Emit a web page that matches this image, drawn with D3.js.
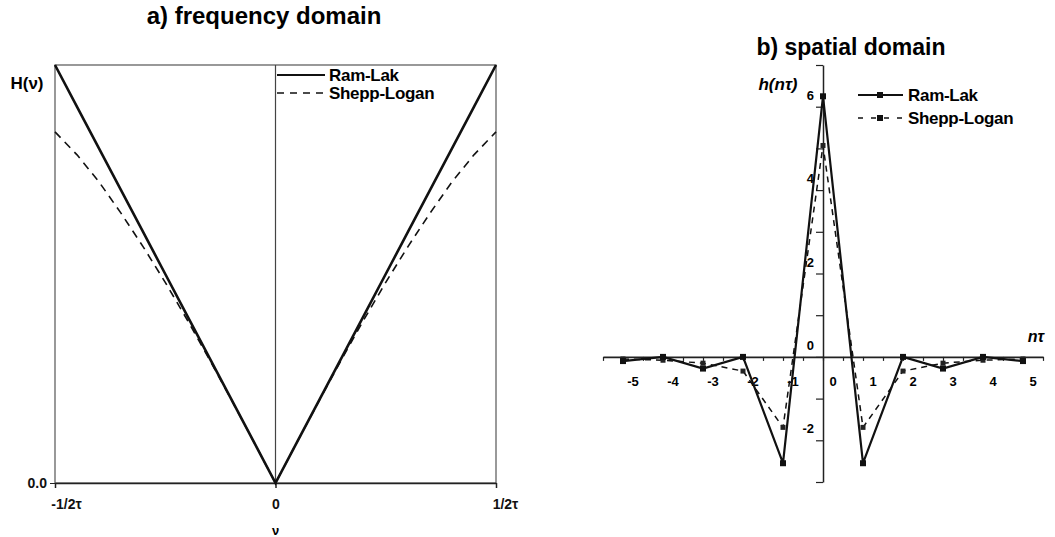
<!DOCTYPE html>
<html>
<head>
<meta charset="utf-8">
<script src="https://cdn.jsdelivr.net/npm/d3@7"></script>
<style>
  body { margin: 0; background: #fff; }
  svg { font-family: Arial, "Liberation Sans", sans-serif; }
  .axis path, .axis line { stroke: #222; }
  .axis text { font-weight: bold; fill: #111; }
</style>
</head>
<body>
<div id="chart"></div>
<script>
// a) frequency domain: normalised frequency (units of 1/2tau) and filter gain
const freqNu = [-1, -0.9, -0.8, -0.7, -0.6, -0.5, -0.4, -0.3, -0.2, -0.1, 0, 0.1, 0.2, 0.3, 0.4, 0.5, 0.6, 0.7, 0.8, 0.9, 1];
const ramLakH = [1, 0.9, 0.8, 0.7, 0.6, 0.5, 0.4, 0.3, 0.2, 0.1, 0, 0.1, 0.2, 0.3, 0.4, 0.5, 0.6, 0.7, 0.8, 0.9, 1];
const sheppLoganH = [0.84, 0.785, 0.72, 0.645, 0.565, 0.48, 0.39, 0.296, 0.199, 0.1, 0, 0.1, 0.199, 0.296, 0.39, 0.48, 0.565, 0.645, 0.72, 0.785, 0.84];
const freqTicks = [-1, 0, 1];
const freqTickLabels = ["-1/2\u03c4", "0", "1/2\u03c4"];

// b) spatial domain: sample index n and kernel values
const nValues = [-5, -4, -3, -2, -1, 0, 1, 2, 3, 4, 5];
const ramLakSpatial = [-0.1, 0, -0.28, 0, -2.55, 6.25, -2.55, 0, -0.28, 0, -0.1];
const sheppLoganSpatial = [-0.05, -0.08, -0.15, -0.34, -1.69, 5.07, -1.69, -0.34, -0.15, -0.08, -0.05];
const spatialYLabels = [6, 4, 2, 0, -2];

const seriesNames = ["Ram-Lak", "Shepp-Logan"];

const svg = d3.select("#chart")
  .append("svg")
  .attr("width", 1055)
  .attr("height", 537);

// ---------- panel a ----------
const xL = d3.scaleLinear().domain([-1, 1]).range([55, 496]);
const yL = d3.scaleLinear().domain([0, 1]).range([483, 65]);

const panelA = svg.append("g");

panelA.append("text")
  .attr("x", 264)
  .attr("y", 24)
  .attr("text-anchor", "middle")
  .attr("font-size", 24)
  .attr("font-weight", "bold")
  .text("a) frequency domain");

// frame
panelA.append("rect")
  .attr("x", xL(-1))
  .attr("y", yL(1))
  .attr("width", xL(1) - xL(-1))
  .attr("height", yL(0) - yL(1))
  .attr("fill", "none")
  .attr("stroke", "#555")
  .attr("stroke-width", 1.2);

// vertical line at nu = 0
panelA.append("line")
  .attr("x1", xL(0)).attr("x2", xL(0))
  .attr("y1", yL(1)).attr("y2", yL(0))
  .attr("stroke", "#444")
  .attr("stroke-width", 1.2);

const xAxisA = panelA.append("g")
  .attr("class", "axis")
  .attr("transform", "translate(0," + yL(0) + ")")
  .call(d3.axisBottom(xL).tickValues(freqTicks).tickSize(5).tickSizeOuter(0)
    .tickFormat((d, i) => freqTickLabels[i]));
xAxisA.select(".domain").attr("stroke-width", 1.6);
xAxisA.selectAll(".tick line").attr("stroke-width", 1.5);
xAxisA.selectAll(".tick text")
  .attr("font-size", 14)
  .attr("dy", "1.25em")
  .attr("dx", (d, i) => [11, 0, 9][i]);

const yAxisA = panelA.append("g")
  .attr("class", "axis")
  .attr("transform", "translate(" + xL(-1) + ",0)")
  .call(d3.axisLeft(yL).tickValues([0]).tickSize(5).tickSizeOuter(0)
    .tickFormat(d3.format(".1f")));
yAxisA.select(".domain").remove();
yAxisA.selectAll(".tick text").attr("font-size", 14).attr("x", -8);

panelA.append("text")
  .attr("x", 27)
  .attr("y", 89)
  .attr("text-anchor", "middle")
  .attr("font-size", 17)
  .attr("font-weight", "bold")
  .text("H(\u03bd)");

panelA.append("text")
  .attr("x", xL(0))
  .attr("y", 535)
  .attr("text-anchor", "middle")
  .attr("font-size", 13)
  .attr("font-weight", "bold")
  .text("\u03bd");

const lineA = d3.line()
  .x(d => xL(d[0]))
  .y(d => yL(d[1]));

panelA.append("path")
  .datum(d3.zip(freqNu, sheppLoganH))
  .attr("d", lineA)
  .attr("fill", "none")
  .attr("stroke", "#111")
  .attr("stroke-width", 1.6)
  .attr("stroke-dasharray", "8,6");

panelA.append("path")
  .datum(d3.zip(freqNu, ramLakH))
  .attr("d", lineA)
  .attr("fill", "none")
  .attr("stroke", "#111")
  .attr("stroke-width", 2.6);

// legend a
const legendA = panelA.append("g").attr("transform", "translate(277,75)");
seriesNames.forEach((name, i) => {
  legendA.append("line")
    .attr("x1", 0).attr("x2", 48)
    .attr("y1", i * 18).attr("y2", i * 18)
    .attr("stroke", "#111")
    .attr("stroke-width", i === 0 ? 1.8 : 1.6)
    .attr("stroke-dasharray", i === 0 ? null : "7,6");
  legendA.append("text")
    .attr("x", 52)
    .attr("y", i * 18)
    .attr("dy", "0.36em")
    .attr("font-size", 17)
    .attr("font-weight", "bold")
    .attr("letter-spacing", "-0.3")
    .text(name);
});

// ---------- panel b ----------
const xR = d3.scaleLinear().domain([-5.5, 5.5]).range([603, 1043]);
const yR = d3.scaleLinear().domain([-3, 7]).range([482, 65]);

const panelB = svg.append("g");

panelB.append("text")
  .attr("x", 851)
  .attr("y", 55)
  .attr("text-anchor", "middle")
  .attr("font-size", 23)
  .attr("font-weight", "bold")
  .text("b) spatial domain");

const xAxisB = panelB.append("g")
  .attr("class", "axis")
  .attr("transform", "translate(0," + yR(0) + ")")
  .call(d3.axisBottom(xR).tickValues(d3.range(-5.5, 5.51, 0.5)).tickSize(4).tickSizeOuter(0)
    .tickFormat(""));
xAxisB.select(".domain").attr("stroke-width", 1.6);
xAxisB.selectAll(".tick line").attr("stroke-width", 1.2);

// category labels sit a quarter step right of the points
panelB.append("g")
  .selectAll("text")
  .data(nValues)
  .join("text")
  .attr("x", d => xR(d + 0.25))
  .attr("y", yR(0) + 29)
  .attr("text-anchor", "middle")
  .attr("font-size", 13)
  .attr("font-weight", "bold")
  .text(d => d);

const yAxisB = panelB.append("g")
  .attr("class", "axis")
  .attr("transform", "translate(" + xR(0) + ",0)")
  .call(d3.axisLeft(yR).tickValues(d3.range(-3, 7.01, 1)).tickSize(7).tickSizeOuter(0)
    .tickFormat(""));
yAxisB.select(".domain").attr("stroke-width", 1.5);
yAxisB.selectAll(".tick line").attr("stroke-width", 1.2);

panelB.append("g")
  .selectAll("text")
  .data(spatialYLabels)
  .join("text")
  .attr("x", xR(0) - 9)
  .attr("y", d => yR(d) - 7)
  .attr("text-anchor", "end")
  .attr("font-size", 13)
  .attr("font-weight", "bold")
  .text(d => d);

panelB.append("text")
  .attr("x", 778)
  .attr("y", 90)
  .attr("text-anchor", "middle")
  .attr("font-size", 17)
  .attr("font-weight", "bold")
  .attr("font-style", "italic")
  .text("h(n\u03c4)");

panelB.append("text")
  .attr("x", 1036)
  .attr("y", 342)
  .attr("text-anchor", "middle")
  .attr("font-size", 16)
  .attr("font-weight", "bold")
  .attr("font-style", "italic")
  .text("n\u03c4");

const lineB = d3.line()
  .x(d => xR(d[0]))
  .y(d => yR(d[1]));

panelB.append("path")
  .datum(d3.zip(nValues, sheppLoganSpatial))
  .attr("d", lineB)
  .attr("fill", "none")
  .attr("stroke", "#111")
  .attr("stroke-width", 1.5)
  .attr("stroke-dasharray", "6,5");

panelB.append("path")
  .datum(d3.zip(nValues, ramLakSpatial))
  .attr("d", lineB)
  .attr("fill", "none")
  .attr("stroke", "#111")
  .attr("stroke-width", 2.2);

panelB.append("g")
  .selectAll("rect")
  .data(d3.zip(nValues, sheppLoganSpatial))
  .join("rect")
  .attr("x", d => xR(d[0]) - 2.5)
  .attr("y", d => yR(d[1]) - 2.5)
  .attr("width", 5)
  .attr("height", 5)
  .attr("fill", "#222");

panelB.append("g")
  .selectAll("rect")
  .data(d3.zip(nValues, ramLakSpatial))
  .join("rect")
  .attr("x", d => xR(d[0]) - 3)
  .attr("y", d => yR(d[1]) - 3)
  .attr("width", 6)
  .attr("height", 6)
  .attr("fill", "#111");

// legend b
const legendB = panelB.append("g").attr("transform", "translate(858,95)");
seriesNames.forEach((name, i) => {
  legendB.append("line")
    .attr("x1", 0).attr("x2", 45)
    .attr("y1", i * 23).attr("y2", i * 23)
    .attr("stroke", "#111")
    .attr("stroke-width", i === 0 ? 2 : 1.5)
    .attr("stroke-dasharray", i === 0 ? null : "5,8");
  legendB.append("rect")
    .attr("x", 19).attr("y", i * 23 - 3)
    .attr("width", 6).attr("height", 6)
    .attr("fill", "#111");
  legendB.append("text")
    .attr("x", 50)
    .attr("y", i * 23)
    .attr("dy", "0.36em")
    .attr("font-size", 17)
    .attr("font-weight", "bold")
    .attr("letter-spacing", "-0.3")
    .text(name);
});
</script>
</body>
</html>
